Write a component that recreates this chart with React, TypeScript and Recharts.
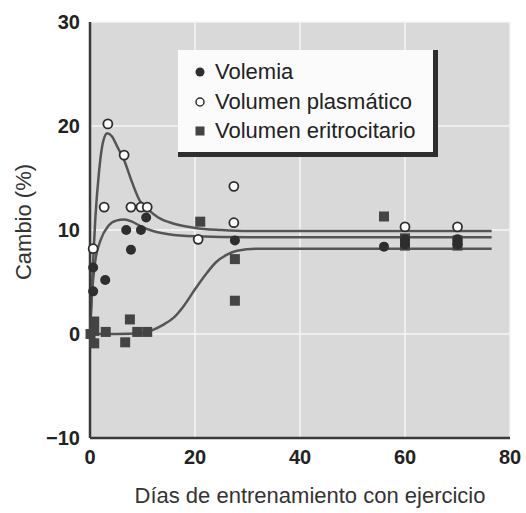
import React from "react";
import { ComposedChart, Line, Scatter, XAxis, YAxis, CartesianGrid, Legend } from "recharts";

// Tick labels
const xTicks = [0, 20, 40, 60, 80];
const yTicks = [-10, 0, 10, 20, 30];

// Measured points
const volemiaX = [0.6, 0.6, 2.9, 6.9, 7.8, 9.7, 10.7, 27.6, 56, 60, 60, 70, 70];
const volemiaY = [4.1, 6.4, 5.2, 10.0, 8.1, 10.0, 11.2, 9.0, 8.4, 9.1, 8.6, 9.1, 8.6];

const plasmaX = [0.6, 2.7, 3.4, 6.5, 7.8, 9.7, 10.9, 20.6, 27.4, 27.4, 60, 70];
const plasmaY = [8.2, 12.2, 20.2, 17.2, 12.2, 12.2, 12.2, 9.1, 14.2, 10.7, 10.3, 10.3];

const eritroX = [0.1, 0.8, 0.8, 0.8, 3.0, 6.7, 7.6, 9.0, 10.9, 21.0, 27.6, 27.6, 56, 60, 60, 70, 70];
const eritroY = [0.0, 0.3, 1.2, -0.9, 0.2, -0.8, 1.4, 0.2, 0.2, 10.8, 7.2, 3.2, 11.3, 9.2, 8.5, 9.0, 8.5];

// Fitted curves
const plasmaCurveX = [0, 0.5, 1, 1.7, 2.5, 3.3, 4.2, 5.2, 6.5, 8, 9.5, 11, 13, 16, 20, 25, 30, 76.5];
const plasmaCurveY = [0, 6, 11, 15.5, 18.5, 19.3, 19.0, 18.0, 16.7, 14.6, 12.8, 12.0, 11.2, 10.6, 10.2, 10.0, 9.9, 9.9];

const volemiaCurveX = [0, 0.4, 1, 2, 3.5, 5, 6.5, 8, 9.5, 12, 15, 20, 30, 76.5];
const volemiaCurveY = [0, 4, 7, 9, 10.4, 10.9, 11.0, 10.8, 10.4, 9.9, 9.6, 9.4, 9.3, 9.3];

const eritroCurveX = [0, 5, 10, 12, 14, 16, 18, 20, 22, 24, 26, 28, 32, 76.5];
const eritroCurveY = [0, 0, 0.1, 0.4, 0.9, 1.6, 2.8, 4.3, 5.7, 6.9, 7.6, 8.0, 8.2, 8.2];

const legendLabels = ["Volemia", "Volumen plasmático", "Volumen eritrocitario"];

const zip = (xs: number[], ys: number[]) => xs.map((x, i) => ({ x, y: ys[i] }));

const volemiaData = zip(volemiaX, volemiaY);
const plasmaData = zip(plasmaX, plasmaY);
const eritroData = zip(eritroX, eritroY);
const plasmaCurve = zip(plasmaCurveX, plasmaCurveY);
const volemiaCurve = zip(volemiaCurveX, volemiaCurveY);
const eritroCurve = zip(eritroCurveX, eritroCurveY);

const FONT = "'Liberation Sans', Arial, Helvetica, sans-serif";
const DARK = "#2e2e2e";
const LINE = "#555";

const FilledDot = (p: any) => <circle cx={p.cx} cy={p.cy} r={5} fill={DARK} />;
const OpenDot = (p: any) => <circle cx={p.cx} cy={p.cy} r={4.5} fill="#fff" stroke={DARK} strokeWidth={1.8} />;
const SquareDot = (p: any) => <rect x={p.cx - 5} y={p.cy - 5} width={10} height={10} fill="#444" />;

const markers = [
  <svg width={12} height={12} key="a"><circle cx={6} cy={6} r={4.5} fill={DARK} /></svg>,
  <svg width={12} height={12} key="b"><circle cx={6} cy={6} r={4} fill="#fff" stroke={DARK} strokeWidth={1.5} /></svg>,
  <svg width={12} height={12} key="c"><rect x={1.5} y={1.5} width={9} height={9} fill="#444" /></svg>,
];

const renderLegend = () => (
  <div
    style={{
      width: 255,
      height: 102,
      background: "#fbfbfb",
      borderRight: `5px solid ${DARK}`,
      borderBottom: `5px solid ${DARK}`,
      fontFamily: FONT,
      fontSize: 22,
      color: "#222",
      position: "relative",
    }}
  >
    {legendLabels.map((t, i) => (
      <div
        key={t}
        style={{ position: "absolute", left: 16, top: 10 + i * 29.5, height: 24, display: "flex", alignItems: "center", whiteSpace: "nowrap" }}
      >
        {markers[i]}
        <span style={{ marginLeft: 9, lineHeight: "24px" }}>{t}</span>
      </div>
    ))}
  </div>
);

const fmtY = (v: number) => (v < 0 ? `\u2212${-v}` : `${v}`);

export default function App() {
  return (
    <div style={{ position: "absolute", left: 0, top: 0, width: 526, height: 513, background: "#fff" }}>
      <ComposedChart width={526} height={513} margin={{ top: 22, right: 16, left: 0, bottom: 15 }}>
        <CartesianGrid fill="#d9d9d9" stroke="#f4f4f4" strokeWidth={1.5} />
        <XAxis
          type="number"
          dataKey="x"
          domain={[0, 80]}
          ticks={xTicks}
          height={60}
          tickLine={false}
          tickSize={0}
          tickMargin={12}
          axisLine={{ stroke: "#3a3a3a", strokeWidth: 2.5 }}
          tick={{ fontSize: 20, fontWeight: "bold", fill: "#222", fontFamily: FONT }}
          label={(props: any) => {
            const vb = props.viewBox;
            return (
              <text x={vb.x + vb.width / 2 + 10} y={503} textAnchor="middle" fontSize={22} fill="#333" fontFamily={FONT}>
                Días de entrenamiento con ejercicio
              </text>
            );
          }}
        />
        <YAxis
          type="number"
          domain={[-10, 30]}
          ticks={yTicks}
          width={90}
          tickLine={false}
          tickSize={0}
          tickMargin={10}
          tickFormatter={fmtY}
          axisLine={{ stroke: "#3a3a3a", strokeWidth: 2.5 }}
          tick={{ fontSize: 20, fontWeight: "bold", fill: "#222", fontFamily: FONT }}
          label={() => (
            <text x={23} y={222} transform="rotate(-90 23 222)" textAnchor="middle" dominantBaseline="central" fontSize={22} fill="#333" fontFamily={FONT}>
              Cambio (%)
            </text>
          )}
        />
        <Legend
          layout="vertical"
          align="center"
          verticalAlign="middle"
          content={renderLegend}
          wrapperStyle={{ position: "absolute", left: 178, top: 50, width: 260, height: 107 }}
        />
        <Line data={plasmaCurve} dataKey="y" type="monotone" stroke={LINE} strokeWidth={2.5} dot={false} isAnimationActive={false} legendType="none" />
        <Line data={volemiaCurve} dataKey="y" type="monotone" stroke={LINE} strokeWidth={2.5} dot={false} isAnimationActive={false} legendType="none" />
        <Line data={eritroCurve} dataKey="y" type="monotone" stroke={LINE} strokeWidth={2.5} dot={false} isAnimationActive={false} legendType="none" />
        <Scatter data={eritroData} dataKey="y" shape={SquareDot} isAnimationActive={false} />
        <Scatter data={volemiaData} dataKey="y" shape={FilledDot} isAnimationActive={false} />
        <Scatter data={plasmaData} dataKey="y" shape={OpenDot} isAnimationActive={false} />
      </ComposedChart>
    </div>
  );
}
